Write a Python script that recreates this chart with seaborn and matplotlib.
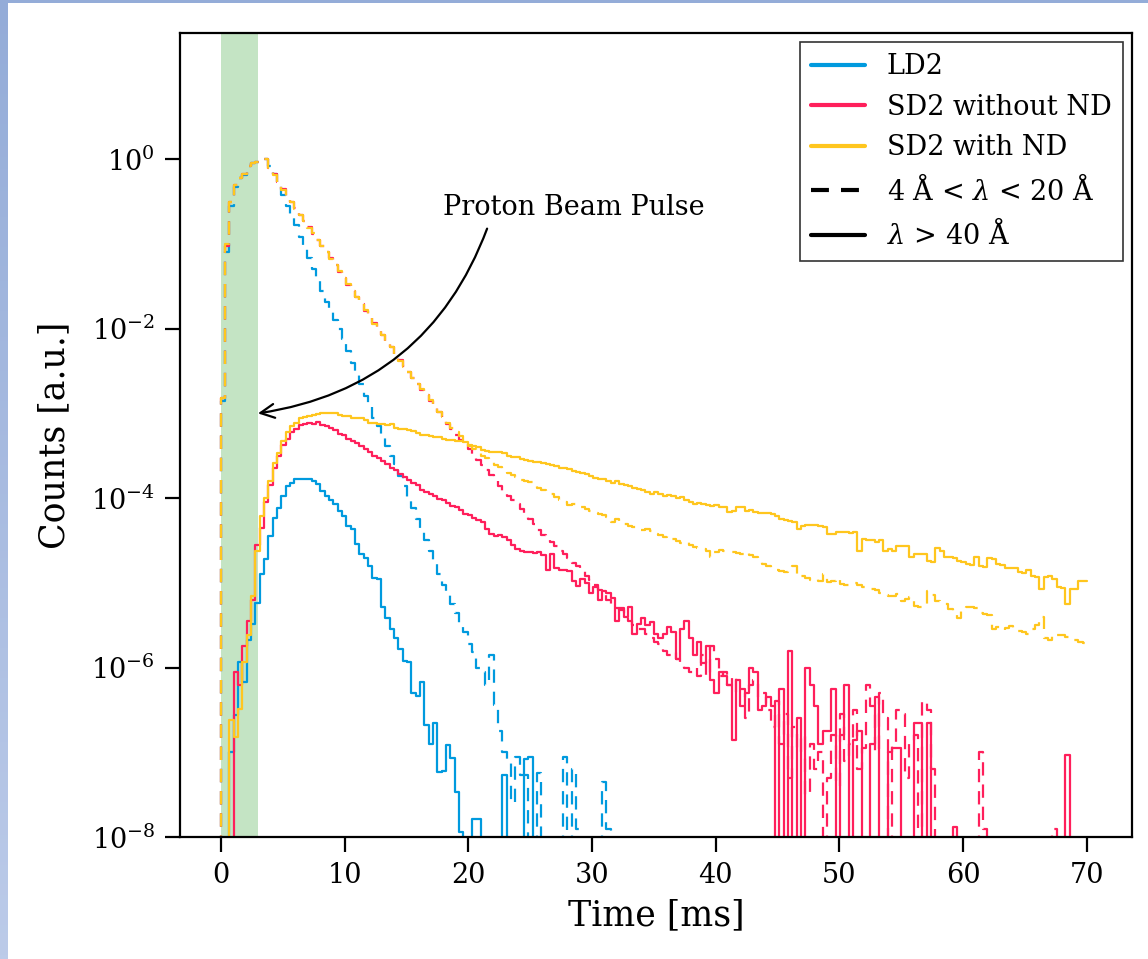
import numpy as np
import matplotlib
matplotlib.use("Agg")
import matplotlib.pyplot as plt
import seaborn as sns
from matplotlib.lines import Line2D
from matplotlib.ticker import NullLocator

# --- Binning (ms) ---
BIN_WIDTH = 0.35
N_BINS = 200
Z = None  # empty bin (zero counts)

# --- log10(normalised counts) per 0.35 ms bin ---
ld2_dash = [
    -2.85, -1.10, -0.55, -0.33, -0.22, -0.19, -0.08, -0.05, -0.03, -0.01,
    0.00, -0.08, -0.18, -0.30, -0.42, -0.55, -0.65, -0.78, -0.92, -1.04,
    -1.16, -1.30, -1.42, -1.55, -1.68, -1.80, -1.90, -2.00, -2.12, -2.26,
    -2.40, -2.52, -2.65, -2.80, -2.92, -3.05, -3.15, -3.28, -3.38, -3.50,
    -3.60, -3.74, -3.86, -4.00, -4.12, -4.25, -4.38, -4.50, -4.62, -4.75,
    -4.90, -5.02, -5.12, -5.25, -5.36, -5.48, -5.58, -5.72, -5.82, -6.00,
    -6.05, -6.20, -5.85, -6.44, -6.75, -7.00, -7.08, -7.60, -7.05, -7.27,
    -7.27, Z, Z, -7.25, Z, Z, Z, Z, Z, -7.05,
    Z, -7.20, -7.90, Z, Z, Z, Z, Z, -7.35, -7.90,
] + [Z] * 110

ld2_solid = [
    Z, Z, -7.00, -6.56, -5.93, -6.17, -5.68, -5.48, -5.24, -4.90,
    -4.72, -4.45, -4.24, -4.12, -3.98, -3.86, -3.82, -3.78, -3.77, -3.77,
    -3.78, -3.80, -3.83, -3.92, -3.97, -4.02, -4.07, -4.15, -4.21, -4.33,
    -4.37, -4.54, -4.66, -4.71, -4.80, -4.94, -4.95, -5.28, -5.42, -5.55,
    -5.65, -5.78, -5.92, -5.93, -6.30, -6.33, -6.17, -6.68, -6.90, -6.66,
    -7.23, -7.22, -6.91, -7.07, -7.47, -7.94, Z, Z, -7.79, -7.79,
    Z, Z, Z, Z, Z, -7.27, Z, Z, Z, Z,
    -7.08, -7.05,
] + [Z] * 128

sd2_dash = [
    -2.82, -1.02, -0.50, -0.30, -0.22, -0.17, -0.08, -0.05, -0.03, -0.01,
    0.00, -0.10, -0.18, -0.27, -0.35, -0.43, -0.51, -0.58, -0.66, -0.73,
    -0.80, -0.88, -0.95, -1.02, -1.10, -1.17, -1.25, -1.33, -1.40, -1.48,
    -1.56, -1.63, -1.71, -1.79, -1.86, -1.93, -2.01, -2.08, -2.15, -2.22,
    -2.30, -2.37, -2.44, -2.51, -2.58, -2.65, -2.72, -2.78, -2.85, -2.92,
    -2.98, -3.05, -3.12, -3.18, -3.25, -3.31, -3.36, -3.42, -3.50, -3.55,
    -3.61, -3.67, -3.73, -3.80, -3.86, -3.92, -3.97, -4.02, -4.07, -4.13,
    -4.20, -4.25, -4.31, -4.38, -4.44, -4.48, -4.52, -4.57, -4.62, -4.66,
    -4.71, -4.76, -4.80, -4.86, -4.92, -4.97, -5.03, -5.08, -5.12, -5.20,
    -5.25, -5.30, -5.32, -5.38, -5.45, -5.50, -5.55, -5.55, -5.60, -5.65,
    -5.70, -5.72, -5.80, -5.85, -5.82, -5.90, -5.95, -6.00, -6.05, -6.00,
    -6.10, -5.85, -6.10, -5.75, -5.90, -6.10, -6.05, -6.20, -6.10, -6.30,
    -6.25, -6.60, -6.20, -6.15, -6.35, -6.30, -6.50, -6.70, -6.40, -6.90,
    -6.55, -7.30, -6.70, -7.00, -6.80, -7.50, -6.90, -7.20, -7.00, Z,
    -7.30, -6.80, -7.40, -6.55, -7.10, -6.90, -6.50, -7.20, -6.95, -6.20,
    -6.45, -7.00, -6.30, -6.60, Z, -6.90, -6.50, -6.55, -7.30, -6.90,
    -6.80, Z, -6.40, -6.50, -7.20, Z, Z, Z, Z, Z,
    Z, Z, Z, Z, Z, -7.00, -7.90, Z, Z, Z,
    Z, Z, Z, Z, Z, Z, Z, Z, Z, Z,
    Z, Z, -7.90, Z, Z, Z, Z, Z, Z, Z,
]

sd2_solid = [
    Z, Z, Z, -6.05, -6.20, -5.75, -5.45, -5.20, -4.55, -4.35,
    -4.05, -3.85, -3.65, -3.50, -3.37, -3.30, -3.22, -3.18, -3.14, -3.12,
    -3.11, -3.12, -3.10, -3.14, -3.15, -3.17, -3.20, -3.24, -3.26, -3.30,
    -3.33, -3.35, -3.38, -3.42, -3.45, -3.50, -3.53, -3.56, -3.60, -3.64,
    -3.67, -3.72, -3.75, -3.79, -3.82, -3.85, -3.90, -3.93, -3.95, -3.97,
    -4.01, -4.02, -4.06, -4.09, -4.11, -4.14, -4.19, -4.20, -4.23, -4.26,
    -4.28, -4.36, -4.42, -4.45, -4.43, -4.46, -4.50, -4.55, -4.60, -4.63,
    -4.64, -4.64, -4.65, -4.64, -4.67, -4.85, -4.66, -4.83, -4.85, -4.85,
    -4.86, -4.98, -5.04, -4.95, -5.00, -5.12, -5.05, -5.20, -5.10, -5.12,
    -5.18, -5.45, -5.30, -5.40, -5.28, -5.60, -5.48, -5.42, -5.50, -5.46,
    -5.60, -5.65, -5.60, -5.52, -5.58, -5.90, -5.55, -5.45, -5.65, -5.85,
    -5.70, -5.95, -5.75, -6.15, -6.30, -6.05, -6.10, -6.20, -6.85, -6.15,
    -6.45, -6.30, -6.00, -6.05, -6.50, -6.45, -6.35, -6.45, Z, -6.25,
    Z, -5.80, Z, -6.60, Z, -6.00, -6.20, -6.45, -6.90, -6.75,
    -6.75, -6.25, Z, -6.80, -6.20, Z, -6.85, -6.75, Z, Z,
    -6.90, -6.35, Z, Z, -7.00, -6.95, -6.95, Z, Z, Z,
    -6.65, -6.65, Z, -6.65, Z, Z, Z, Z, Z, -7.88,
    Z, Z, Z, Z, Z, Z, Z, Z, Z, Z,
    Z, Z, Z, Z, Z, Z, Z, Z, Z, Z,
    Z, Z, Z, Z, Z, -7.03, Z, Z, Z, Z,
]

sd2nd_dash = [
    -2.82, -1.00, -0.50, -0.30, -0.22, -0.18, -0.08, -0.05, -0.03, -0.01,
    0.00, -0.11, -0.19, -0.28, -0.36, -0.44, -0.51, -0.59, -0.66, -0.73,
    -0.81, -0.87, -0.95, -1.03, -1.10, -1.18, -1.25, -1.32, -1.40, -1.47,
    -1.55, -1.63, -1.70, -1.78, -1.86, -1.94, -2.01, -2.08, -2.14, -2.22,
    -2.30, -2.38, -2.45, -2.51, -2.58, -2.65, -2.71, -2.78, -2.84, -2.91,
    -2.98, -3.04, -3.11, -3.17, -3.22, -3.27, -3.33, -3.38, -3.42, -3.46,
    -3.50, -3.53, -3.57, -3.61, -3.63, -3.67, -3.70, -3.73, -3.75, -3.79,
    -3.80, -3.81, -3.85, -3.88, -3.91, -3.93, -3.95, -3.99, -4.02, -4.05,
    -4.08, -4.07, -4.09, -4.10, -4.13, -4.15, -4.17, -4.19, -4.20, -4.22,
    -4.28, -4.25, -4.31, -4.30, -4.33, -4.34, -4.36, -4.38, -4.37, -4.39,
    -4.42, -4.43, -4.46, -4.45, -4.48, -4.51, -4.53, -4.52, -4.55, -4.58,
    -4.59, -4.60, -4.62, -4.69, -4.64, -4.61, -4.62, -4.63, -4.64, -4.65,
    -4.66, -4.64, -4.67, -4.70, -4.75, -4.78, -4.80, -4.84, -4.85, -4.86,
    -4.87, -4.86, -4.80, -4.93, -4.92, -4.94, -4.97, -4.96, -4.98, -4.90,
    -4.99, -4.98, -4.94, -5.01, -5.02, -5.02, -5.00, -5.03, -5.05, -5.07,
    -5.07, -5.09, -5.12, -5.14, -5.15, -5.15, -5.13, -5.22, -5.19, -5.17,
    -5.27, -5.29, -5.28, -5.10, -5.14, -5.22, -5.23, -5.25, -5.31, -5.35,
    -5.42, -5.30, -5.29, -5.28, -5.30, -5.36, -5.37, -5.38, -5.55, -5.52,
    -5.56, -5.53, -5.51, -5.55, -5.57, -5.58, -5.60, -5.55, -5.50, -5.40,
    -5.65, -5.67, -5.60, -5.62, -5.62, -5.64, -5.66, -5.68, -5.70, -5.71,
]

sd2nd_solid = [
    Z, Z, -6.62, -6.82, -6.49, -5.93, -5.61, -5.16, -4.63, -4.21,
    -4.00, -3.80, -3.59, -3.47, -3.33, -3.22, -3.15, -3.11, -3.06, -3.04,
    -3.03, -3.02, -3.01, -3.00, -2.99, -3.00, -3.00, -3.02, -3.03, -3.03,
    -3.05, -3.06, -3.06, -3.08, -3.11, -3.11, -3.12, -3.13, -3.14, -3.13,
    -3.17, -3.18, -3.19, -3.20, -3.21, -3.23, -3.25, -3.26, -3.27, -3.28,
    -3.28, -3.30, -3.31, -3.31, -3.32, -3.33, -3.34, -3.37, -3.38, -3.40,
    -3.43, -3.44, -3.45, -3.46, -3.46, -3.47, -3.50, -3.51, -3.52, -3.54,
    -3.55, -3.56, -3.57, -3.57, -3.59, -3.60, -3.61, -3.62, -3.64, -3.65,
    -3.66, -3.68, -3.69, -3.70, -3.72, -3.74, -3.76, -3.77, -3.78, -3.80,
    -3.82, -3.80, -3.83, -3.85, -3.86, -3.88, -3.89, -3.91, -3.93, -3.95,
    -3.93, -3.95, -3.97, -3.96, -3.98, -4.00, -3.99, -4.02, -4.04, -4.07,
    -4.06, -4.07, -4.08, -4.09, -4.08, -4.10, -4.10, -4.16, -4.15, -4.10,
    -4.10, -4.15, -4.14, -4.16, -4.17, -4.18, -4.18, -4.19, -4.21, -4.25,
    -4.26, -4.27, -4.28, -4.36, -4.33, -4.32, -4.32, -4.32, -4.33, -4.34,
    -4.42, -4.42, -4.40, -4.40, -4.40, -4.41, -4.40, -4.63, -4.48, -4.50,
    -4.50, -4.52, -4.50, -4.62, -4.60, -4.62, -4.57, -4.57, -4.56, -4.69,
    -4.66, -4.66, -4.66, -4.74, -4.75, -4.59, -4.62, -4.70, -4.70, -4.71,
    -4.74, -4.75, -4.78, -4.79, -4.69, -4.80, -4.81, -4.71, -4.72, -4.78,
    -4.79, -4.82, -4.82, -4.83, -4.87, -4.88, -4.85, -4.92, -4.93, -5.07,
    -4.93, -4.92, -4.95, -5.05, -5.06, -5.25, -5.07, -5.07, -4.98, -4.98,
]

COLORS = {"LD2": "#009ADE", "SD2 without ND": "#FF1F5B", "SD2 with ND": "#FFC61E"}
DASH = (0, (6, 4))

series = [
    ("LD2", DASH, ld2_dash),
    ("LD2", "-", ld2_solid),
    ("SD2 without ND", DASH, sd2_dash),
    ("SD2 without ND", "-", sd2_solid),
    ("SD2 with ND", DASH, sd2nd_dash),
    ("SD2 with ND", "-", sd2nd_solid),
]

# leading empty bin so each histogram starts from the baseline at t = 0
edges = [BIN_WIDTH * i for i in range(-1, N_BINS + 1)]
centers = np.array(edges[:-1]) + BIN_WIDTH / 2


def to_counts(logs):
    return np.array([0.0] + [0.0 if v is None else 10.0 ** v for v in logs])


# --- Style ---
sns.set_style("ticks")
plt.rcParams["font.family"] = ["DejaVu Serif"]
plt.rcParams["mathtext.fontset"] = "dejavuserif"
for key in ["axes.edgecolor", "xtick.color", "ytick.color", "text.color", "axes.labelcolor"]:
    plt.rcParams[key] = "black"

fig = plt.figure(figsize=(11.48, 9.59), dpi=100)
ax = fig.add_axes([0.1568, 0.1272, 0.8293, 0.8384])

ax.axvspan(0, 3, color="#2ca02c", alpha=0.28, lw=0, zorder=0)

for name, ls, logs in series:
    sns.histplot(x=centers, weights=to_counts(logs), bins=edges, element="step",
                 fill=False, color=COLORS[name], linestyle=ls, linewidth=1.6, ax=ax)

ax.set_yscale("log")
ax.set_ylim(1e-8, 10 ** 1.49)
ax.set_xlim(-3.3, 73.65)
ax.set_yticks([1e-8, 1e-6, 1e-4, 1e-2, 1e0])
ax.yaxis.set_minor_locator(NullLocator())
ax.set_xticks(range(0, 71, 10))

ax.set_xlabel("Time [ms]", fontsize=25, labelpad=7)
ax.set_ylabel("Counts [a.u.]", fontsize=25, labelpad=14)
ax.tick_params(axis="both", which="major", labelsize=19.5, length=11, width=1.6, pad=7)
for sp in ax.spines.values():
    sp.set_linewidth(1.6)

ax.annotate("Proton Beam Pulse", xy=(3.0, 1e-3), xytext=(28.5, 0.217),
            ha="center", va="baseline", fontsize=19.5,
            arrowprops=dict(arrowstyle="->", connectionstyle="arc3,rad=-0.3",
                            color="black", lw=1.6, mutation_scale=25,
                            relpos=(0.18, 0.0), shrinkA=3, shrinkB=0))

handles = [
    Line2D([0], [0], color=COLORS["LD2"], lw=3),
    Line2D([0], [0], color=COLORS["SD2 without ND"], lw=3),
    Line2D([0], [0], color=COLORS["SD2 with ND"], lw=3),
    Line2D([0], [0], color="black", lw=3, linestyle=(0, (4.3, 2.9))),
    Line2D([0], [0], color="black", lw=3),
]
labels = ["LD2", "SD2 without ND", "SD2 with ND",
          r"4 Å < $\lambda$ < 20 Å", r"$\lambda$ > 40 Å"]
leg = ax.legend(handles, labels, loc="upper right", fontsize=19.5, fancybox=False,
                framealpha=1, edgecolor="0.2", labelspacing=0.5, borderaxespad=0.35)
leg.get_frame().set_linewidth(1.2)

# slide-style border strips
left = fig.add_axes([0, 0, 8 / 1148, 1])
grad = np.linspace(0, 1, 256)[:, None]
left.imshow(grad, aspect="auto", cmap=matplotlib.colors.LinearSegmentedColormap.from_list(
    "edge", ["#94acd8", "#bccbe9"]))
left.axis("off")
top = fig.add_axes([0, 1 - 3 / 959, 1, 3 / 959])
top.set_facecolor("#94acd8")
top.set_xticks([])
top.set_yticks([])
for sp in top.spines.values():
    sp.set_visible(False)

fig.savefig("out.png", dpi=100)
